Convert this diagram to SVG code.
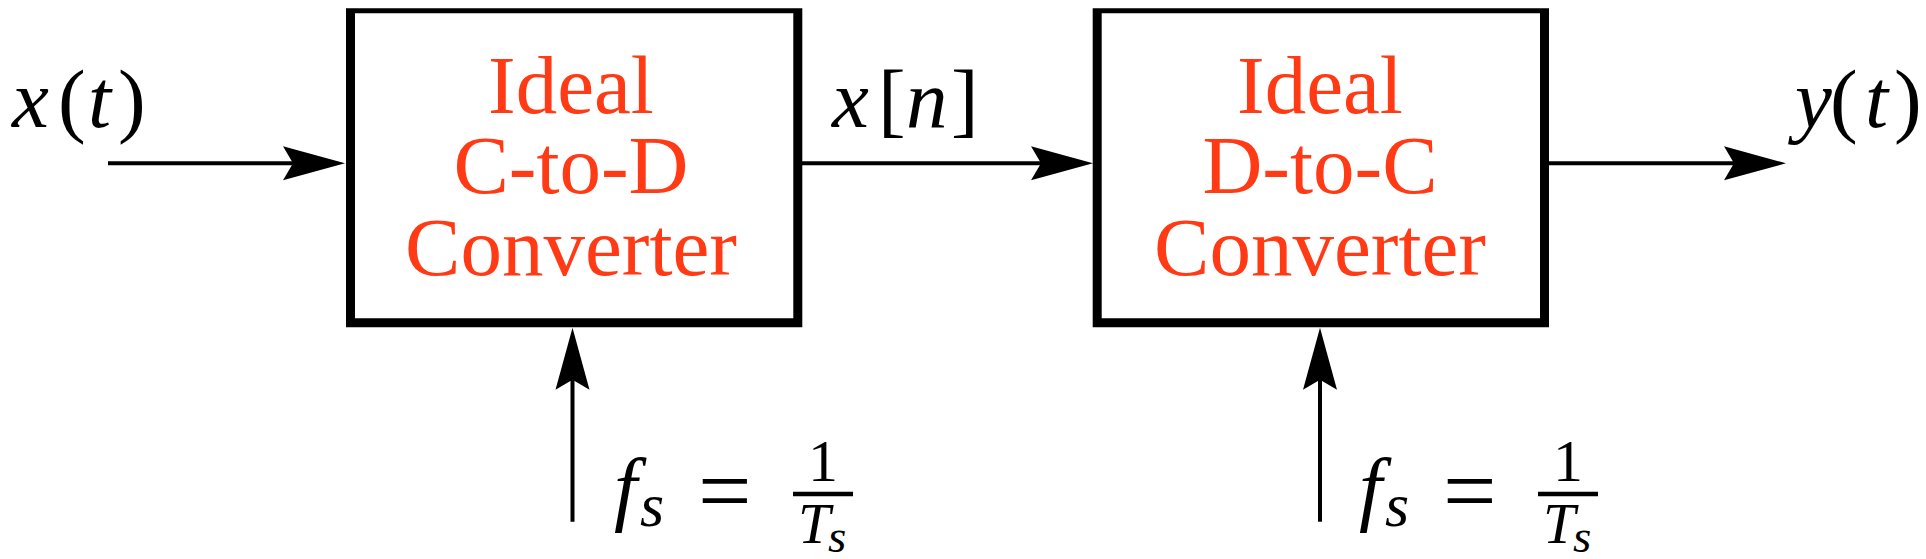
<svg xmlns="http://www.w3.org/2000/svg" width="1926" height="559" viewBox="0 0 1926 559">
<style>
.box{fill:#000;fill-rule:evenodd;stroke:none}
.lbl{font-family:"Liberation Serif","Times New Roman",serif;font-size:83px;fill:#FF3A14;text-anchor:middle}
.m{font-family:"Liberation Serif","Times New Roman",serif;font-size:83px;fill:#000}
.i{font-style:italic}
.wire{stroke:#000;stroke-width:4;fill:none;marker-end:url(#ah)}
</style>
<defs>
<marker id="ah" markerUnits="userSpaceOnUse" viewBox="-12 -19 66 38" markerWidth="66" markerHeight="38" refX="0" refY="0" orient="auto">
<path d="M0,0 L-10,-17 L52,0 L-10,17 Z" fill="#000"/>
</marker>
</defs>
<rect width="1926" height="559" fill="#fff"/>
<g id="connectors">
<line class="wire" x1="108" y1="163.3" x2="293" y2="163.3"/>
<line class="wire" x1="802" y1="163.3" x2="1041" y2="163.3"/>
<line class="wire" x1="1549" y1="163.3" x2="1734" y2="163.3"/>
<line class="wire" x1="572.5" y1="521.7" x2="572.5" y2="379.7"/>
<line class="wire" x1="1320" y1="521.7" x2="1320" y2="379.7"/>
</g>
<g id="c2d">
<path class="box" d="M346,8.3 H802.3 V327.3 H346 Z M355,13.3 V318.3 H793.3 V13.3 Z"/>
<text class="lbl" x="571" y="113.3">Ideal</text>
<text class="lbl" x="571" y="193.3">C-to-D</text>
<text class="lbl" x="571" y="275">Converter</text>
</g>
<g id="d2c">
<path class="box" d="M1092.7,8.3 H1549 V327.3 H1092.7 Z M1101.7,13.3 V318.3 H1540 V13.3 Z"/>
<text class="lbl" x="1320" y="113.3">Ideal</text>
<text class="lbl" x="1320" y="193.3">D-to-C</text>
<text class="lbl" x="1320" y="275">Converter</text>
</g>
<g id="label-xt">
<text class="m" y="126.7"><tspan class="i" x="12">x</tspan><tspan x="58">(</tspan><tspan class="i" x="88">t</tspan><tspan x="118">)</tspan></text>
</g>
<g id="label-xn">
<text class="m" y="126.7"><tspan class="i" x="832">x</tspan><tspan x="878">[</tspan><tspan class="i" x="906">n</tspan><tspan x="951">]</tspan></text>
</g>
<g id="label-yt">
<text class="m" y="126.7"><tspan class="i" x="1795">y</tspan><tspan x="1830">(</tspan><tspan class="i" x="1865">t</tspan><tspan x="1894">)</tspan></text>
</g>
<g id="label-fs1">
<text class="m i" x="614" y="515">f</text>
<text class="m i" x="640" y="526" style="font-size:62px">s</text>
<text class="m" x="698" y="523" style="font-size:95px">=</text>
<text class="m" x="823" y="480.7" style="font-size:60px;text-anchor:middle">1</text>
<line x1="793" y1="494" x2="853" y2="494" stroke="#000" stroke-width="4.3"/>
<text class="m i" x="798" y="543" style="font-size:58px">T</text>
<text class="m i" x="828" y="552" style="font-size:47px">s</text>
</g>
<g id="label-fs2">
<text class="m i" x="1359" y="515">f</text>
<text class="m i" x="1385" y="526" style="font-size:62px">s</text>
<text class="m" x="1443" y="523" style="font-size:95px">=</text>
<text class="m" x="1568" y="480.7" style="font-size:60px;text-anchor:middle">1</text>
<line x1="1538" y1="494" x2="1598" y2="494" stroke="#000" stroke-width="4.3"/>
<text class="m i" x="1543" y="543" style="font-size:58px">T</text>
<text class="m i" x="1573" y="552" style="font-size:47px">s</text>
</g>
</svg>
